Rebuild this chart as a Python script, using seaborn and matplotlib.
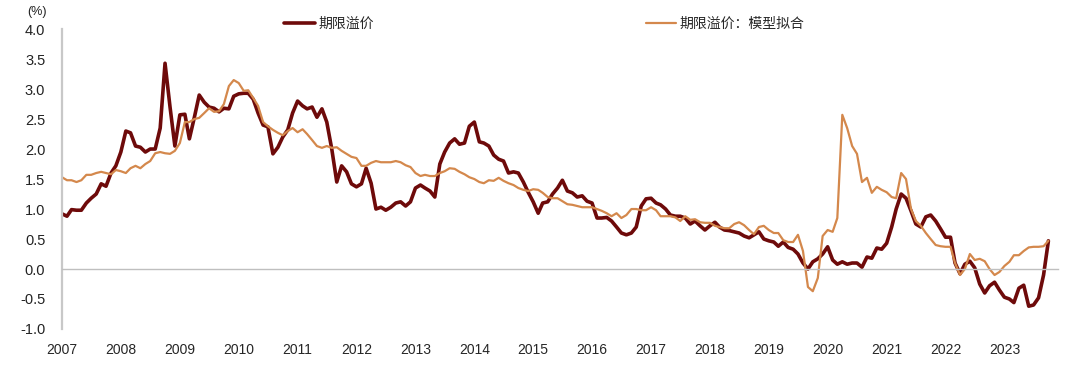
import matplotlib
matplotlib.use('Agg')
import matplotlib.pyplot as plt
import seaborn as sns
import pandas as pd

# monthly values, Jan 2007 - Oct 2023 (%)
term_premium = [
    0.92, 0.88, 0.99, 0.98, 0.98, 1.10, 1.18, 1.25, 1.42, 1.38, 1.60, 1.72,   # 2007
    1.95, 2.30, 2.27, 2.05, 2.03, 1.95, 2.00, 2.00, 2.35, 3.43, 2.70, 2.05,   # 2008
    2.57, 2.58, 2.17, 2.53, 2.90, 2.78, 2.70, 2.68, 2.62, 2.68, 2.67, 2.88,   # 2009
    2.92, 2.93, 2.93, 2.83, 2.60, 2.40, 2.37, 1.92, 2.03, 2.20, 2.32, 2.60,   # 2010
    2.80, 2.72, 2.67, 2.70, 2.53, 2.67, 2.45, 2.00, 1.45, 1.72, 1.62, 1.42,   # 2011
    1.37, 1.42, 1.68, 1.43, 1.00, 1.03, 0.98, 1.03, 1.10, 1.12, 1.05, 1.12,   # 2012
    1.35, 1.40, 1.35, 1.30, 1.20, 1.75, 1.95, 2.10, 2.17, 2.08, 2.10, 2.38,   # 2013
    2.45, 2.12, 2.10, 2.05, 1.90, 1.83, 1.80, 1.60, 1.62, 1.60, 1.45, 1.28,   # 2014
    1.12, 0.93, 1.10, 1.12, 1.25, 1.35, 1.48, 1.30, 1.27, 1.20, 1.22, 1.13,   # 2015
    1.10, 0.85, 0.85, 0.86, 0.80, 0.70, 0.60, 0.57, 0.60, 0.70, 1.05, 1.17,   # 2016
    1.18, 1.10, 1.07, 1.00, 0.90, 0.88, 0.88, 0.85, 0.75, 0.80, 0.72, 0.65,   # 2017
    0.72, 0.78, 0.70, 0.65, 0.64, 0.62, 0.60, 0.55, 0.52, 0.57, 0.62, 0.50,   # 2018
    0.47, 0.45, 0.38, 0.45, 0.36, 0.33, 0.25, 0.10, 0.00, 0.12, 0.17, 0.25,   # 2019
    0.37, 0.15, 0.08, 0.12, 0.08, 0.10, 0.10, 0.03, 0.20, 0.18, 0.35, 0.33,   # 2020
    0.43, 0.70, 1.00, 1.25, 1.18, 0.97, 0.75, 0.70, 0.87, 0.90, 0.80, 0.67,   # 2021
    0.53, 0.53, 0.10, -0.08, 0.08, 0.13, 0.02, -0.25, -0.40, -0.28, -0.22, -0.35,  # 2022
    -0.47, -0.50, -0.56, -0.32, -0.27, -0.62, -0.60, -0.48, -0.10, 0.47,     # 2023
]
model_fit = [
    1.53, 1.48, 1.48, 1.45, 1.48, 1.57, 1.57, 1.60, 1.62, 1.60, 1.58, 1.65,   # 2007
    1.63, 1.60, 1.68, 1.72, 1.68, 1.75, 1.80, 1.93, 1.95, 1.93, 1.92, 1.97,   # 2008
    2.10, 2.45, 2.45, 2.50, 2.52, 2.60, 2.68, 2.62, 2.63, 2.75, 3.05, 3.15,   # 2009
    3.10, 2.97, 2.98, 2.85, 2.72, 2.45, 2.38, 2.32, 2.27, 2.23, 2.30, 2.35,   # 2010
    2.28, 2.33, 2.25, 2.15, 2.05, 2.02, 2.05, 2.02, 2.03, 1.97, 1.92, 1.87,   # 2011
    1.85, 1.72, 1.72, 1.77, 1.80, 1.78, 1.78, 1.78, 1.80, 1.78, 1.73, 1.70,   # 2012
    1.60, 1.55, 1.57, 1.55, 1.55, 1.60, 1.63, 1.68, 1.67, 1.62, 1.58, 1.53,   # 2013
    1.50, 1.45, 1.43, 1.48, 1.47, 1.52, 1.47, 1.43, 1.40, 1.35, 1.32, 1.30,   # 2014
    1.33, 1.32, 1.27, 1.20, 1.18, 1.18, 1.13, 1.08, 1.07, 1.05, 1.03, 1.03,   # 2015
    1.03, 1.00, 0.97, 0.93, 0.88, 0.93, 0.85, 0.90, 1.00, 1.00, 0.98, 0.98,   # 2016
    1.03, 0.98, 0.88, 0.88, 0.88, 0.86, 0.80, 0.88, 0.82, 0.83, 0.78, 0.77,   # 2017
    0.77, 0.72, 0.70, 0.68, 0.68, 0.75, 0.78, 0.73, 0.65, 0.58, 0.70, 0.72,   # 2018
    0.65, 0.60, 0.60, 0.48, 0.45, 0.45, 0.57, 0.30, -0.30, -0.37, -0.15, 0.55,  # 2019
    0.65, 0.62, 0.85, 2.57, 2.35, 2.05, 1.92, 1.45, 1.52, 1.27, 1.37, 1.32,   # 2020
    1.28, 1.20, 1.18, 1.60, 1.50, 1.00, 0.80, 0.72, 0.60, 0.50, 0.40, 0.38,   # 2021
    0.37, 0.37, 0.10, -0.10, 0.00, 0.25, 0.15, 0.17, 0.13, 0.00, -0.10, -0.05,  # 2022
    0.05, 0.12, 0.23, 0.23, 0.30, 0.36, 0.37, 0.37, 0.38, 0.47,               # 2023
]
dates = pd.date_range('2007-01-01', periods=len(term_premium), freq='MS')
year_ticks = list(range(2007, 2024))

df = pd.DataFrame({'date': dates, 'tp': term_premium, 'fit': model_fit})

sns.set_style('white')
plt.rcParams['font.family'] = ['Liberation Sans', 'Noto Sans CJK SC', 'DejaVu Sans']

fig = plt.figure(figsize=(10.8, 3.68), dpi=100)
ax = fig.add_axes([0.0574, 0.106, 0.922, 0.815])

sns.lineplot(data=df, x='date', y='tp', color='#6E0A0A', linewidth=2.6, label='期限溢价', ax=ax)
sns.lineplot(data=df, x='date', y='fit', color='#D4884C', linewidth=1.6, label='期限溢价：模型拟合', ax=ax)

ax.set_xlim(pd.Timestamp('2007-01-01'), pd.Timestamp('2023-11-28'))
ax.set_ylim(-1.0, 4.0)
ax.set_yticks([-1.0, -0.5, 0.0, 0.5, 1.0, 1.5, 2.0, 2.5, 3.0, 3.5, 4.0])
ax.set_yticklabels([f'{v:.1f}' for v in ax.get_yticks()], fontsize=10.5, color='#222222')
ax.tick_params(axis='y', length=0, pad=12)

ax.set_xticks([pd.Timestamp(f'{y}-01-01') for y in year_ticks])
ax.set_xticklabels([str(y) for y in year_ticks], fontsize=10.5, color='#222222')
ax.tick_params(axis='x', direction='out', length=4, width=1, color='#BFBFBF', pad=49)
ax.set_xlabel('')
ax.set_ylabel('')

for s in ['top', 'right']:
    ax.spines[s].set_visible(False)
ax.spines['left'].set_color('#C8C8C8')
ax.spines['left'].set_linewidth(1.6)
ax.spines['bottom'].set_position(('data', 0))
ax.spines['bottom'].set_color('#BFBFBF')
ax.spines['bottom'].set_linewidth(1.0)

fig.text(0.034, 0.968, '(%)', fontsize=9, color='#222222', ha='center', va='center')

ax.legend(loc='upper left', bbox_to_anchor=(0.263, 0.955), bbox_transform=fig.transFigure,
          ncol=2, frameon=False, fontsize=10, handlelength=2.2, handletextpad=0.25,
          columnspacing=19.6, borderaxespad=0, borderpad=0)

fig.savefig('out.png', dpi=100, facecolor='white')
